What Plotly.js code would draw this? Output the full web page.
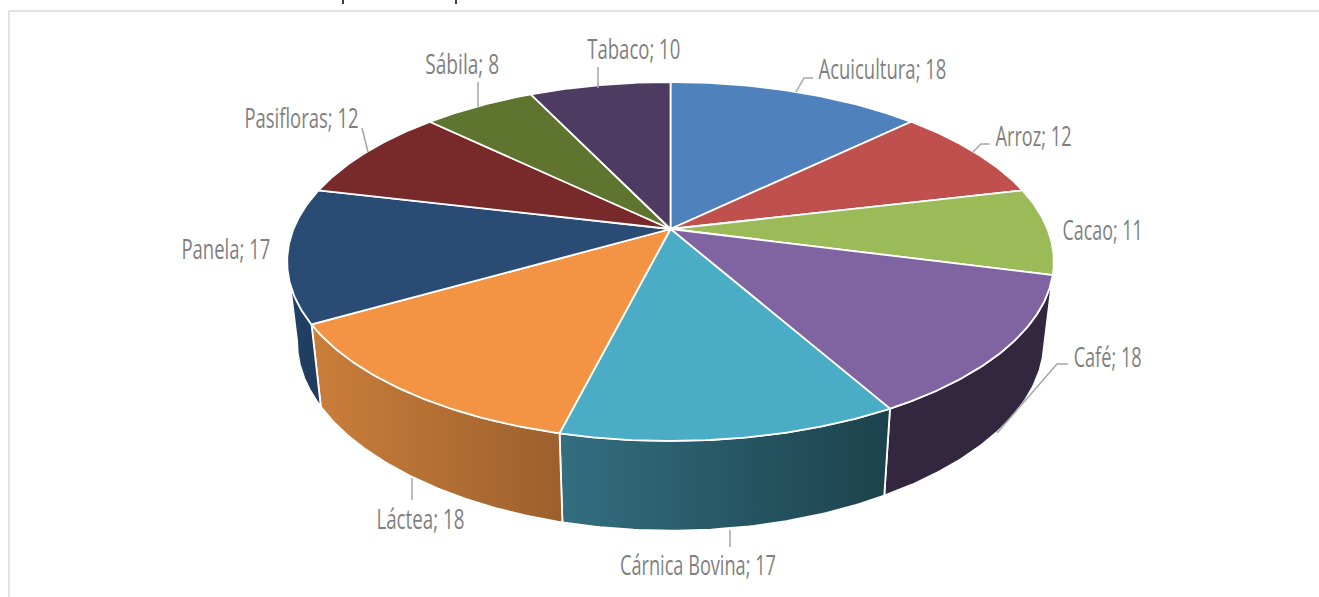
<!DOCTYPE html>
<html>
<head>
<meta charset="utf-8">
<script src="https://cdn.plot.ly/plotly-3.0.1.min.js"></script>
<style>html,body{margin:0;padding:0;background:#fff;overflow:hidden}#chart{width:1319px;height:597px}</style>
</head>
<body>
<div id="chart"></div>
<script>
const categories = ["Acuicultura","Arroz","Cacao","Café","Cárnica Bovina","Láctea","Panela","Pasifloras","Sábila","Tabaco"];
const values = [18,12,11,18,17,18,17,12,8,10];
const topColors = ["#4f81bd","#c0504d","#9bbb59","#8064a2","#4bacc6","#f39444","#2a4b74","#772a29","#5f742e","#4d3b62"];
const wallFrom = [null,null,null,"#33273f","#336f80","#cb7e3a","#23436a",null,null,null];
const wallTo   = [null,null,null,"#32273f","#1c424c","#9c602d","#1f3a5c",null,null,null];

// label placement, in pixels of the picture
const labelX = [882,1033,1102,1107,698,420,225.5,301,462,633.5];
const labelY = [68,135,229,356,564,518,248,117,63,48];
const labelW = [128,76,80,68,156,88,89,114,74,93];
// leader lines: [x...], [y...] per category, empty when there is none
const leadX = [[796,804,813],[973,981,990],[],[997,1057,1068],[730,730],[412,412],[],[368,362],[478,478],[598,598]];
const leadY = [[92,78,78],[152,144,144],[],[433,364,364],[530,547],[478,500],[],[152,128],[107,82],[88,67]];

// projection of the tilted disc
const cx=670.5, cy=229, R=377, B=173.6, a=0.181;
const wallS=0.974, wallA=0.22, wallB=172, wallC=81.2;
const visFrom=100, visTo=260;

const total = values.reduce((s,v)=>s+v,0);
const rad = d=>d*Math.PI/180;
const topX = t=>cx+R*Math.sin(rad(t))/(1+a*Math.cos(rad(t)));
const topY = t=>cy-B*Math.cos(rad(t))/(1+a*Math.cos(rad(t)));
const botX = t=>cx+wallS*R*Math.sin(rad(t))/(1+a*Math.cos(rad(t)));
const botY = t=>cy+wallC-wallB*Math.cos(rad(t))/(1+wallA*Math.cos(rad(t)));
const steps=(s,e,n)=>Array.from({length:n+1},(_,i)=>s+(e-s)*i/n);

const traces=[];
let cum=0;
const spans=values.map(v=>{const s=cum/total*360;cum+=v;return [s,cum/total*360];});

// side walls first
spans.forEach(([s,e],i)=>{
  if(!wallFrom[i])return;
  const s2=Math.max(s,visFrom), e2=Math.min(e,visTo);
  if(e2<=s2)return;
  const ts=steps(s2,e2,70), rs=ts.slice().reverse();
  traces.push({type:'scatter',mode:'lines',hoverinfo:'skip',showlegend:false,
    x:ts.map(topX).concat(rs.map(botX)).concat([topX(s2)]),
    y:ts.map(topY).concat(rs.map(botY)).concat([topY(s2)]),
    fill:'toself',fillcolor:wallFrom[i],
    fillgradient:{type:'horizontal',colorscale:[[0,wallFrom[i]],[1,wallTo[i]]]},
    line:{color:'#ffffff',width:1.8}});
});
// top faces
spans.forEach(([s,e],i)=>{
  const ts=steps(s,e,80);
  traces.push({type:'scatter',mode:'lines',hoverinfo:'skip',showlegend:false,
    x:[cx].concat(ts.map(topX)).concat([cx]),
    y:[cy].concat(ts.map(topY)).concat([cy]),
    fill:'toself',fillcolor:topColors[i],
    line:{color:'#ffffff',width:1.8}});
});
// leaders
categories.forEach((c,i)=>{
  if(!leadX[i].length)return;
  traces.push({type:'scatter',mode:'lines',hoverinfo:'skip',showlegend:false,
    x:leadX[i],y:leadY[i],line:{color:'#a6a6a6',width:1.5}});
});

const annotations=categories.map((c,i)=>({
  x:labelX[i],y:labelY[i],xref:'x',yref:'y',showarrow:false,
  text:c+'; '+values[i],xanchor:'center',yanchor:'middle',
  font:{family:'"Open Sans","Liberation Sans",sans-serif',size:27,color:'#7f7f7f'}
}));

const frame={type:'line',xref:'x',yref:'y',line:{color:'#d9d9d9',width:1.5}};
const tick={type:'line',xref:'x',yref:'y',line:{color:'#404040',width:2}};
const layout={
  width:1319,height:597,margin:{l:0,r:0,t:0,b:0},paper_bgcolor:'#fff',plot_bgcolor:'#fff',
  xaxis:{range:[0,1319],visible:false,fixedrange:true},
  yaxis:{range:[597,0],visible:false,fixedrange:true},
  showlegend:false,annotations,
  shapes:[
    Object.assign({x0:9,x1:1319,y0:11,y1:11},frame),
    Object.assign({x0:9,x1:9,y0:11,y1:597},frame),
    Object.assign({x0:343,x1:343,y0:0,y1:4},tick),
    Object.assign({x0:456,x1:456,y0:0,y1:4},tick)
  ]
};
Plotly.newPlot('chart',traces,layout,{displayModeBar:false,staticPlot:true}).then(()=>{
  document.querySelectorAll('#chart .annotation-text').forEach((el,i)=>{
    el.setAttribute('textLength',labelW[i]);
    el.setAttribute('lengthAdjust','spacingAndGlyphs');
  });
});
</script>
</body>
</html>
